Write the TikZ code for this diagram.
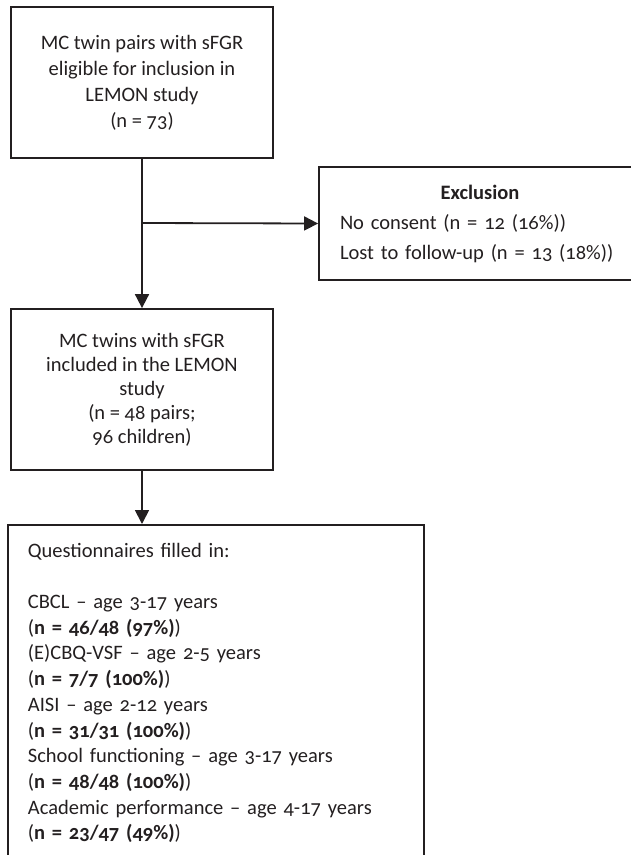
\documentclass[tikz,border=0pt]{standalone}
\usepackage{fontspec}
\setmainfont{Carlito}[Numbers=OldStyle]
\usetikzlibrary{arrows.meta}
\definecolor{ink}{HTML}{231F20}
\tikzset{
  box/.style={draw=ink, line width=1.8pt, rectangle, inner sep=0pt, text=ink, font=\fontsize{20.5}{26}\selectfont},
  arr/.style={draw=ink, line width=1.8pt, -{Triangle[length=14pt,width=14pt]}},
}
\begin{document}
\begin{tikzpicture}[x=1pt,y=1pt]
    \useasboundingbox (0,0) rectangle (630,-855);

    % boxes
    \node[box, minimum width=262pt, minimum height=151pt, align=center] (pairs) at (142,-82.5)
      {MC twin pairs with sFGR\\eligible for inclusion in\\LEMON study\\(n = 73)};
    \node[box, minimum width=262pt, minimum height=161pt, align=center, font=\fontsize{20.5}{24}\selectfont] (included) at (142,-389.5)
      {MC twins with sFGR\\included in the LEMON\\study\\(n = 48 pairs;\\96 children)};
    \node[box, minimum width=322pt, minimum height=113pt, text width=280pt, align=left, font=\fontsize{20.5}{30}\selectfont] (excl) at (480,-223.5)
      {\makebox[280pt]{\textbf{Exclusion}}\\No consent (n = 12 (16\%))\\Lost to follow-up (n = 13 (18\%))};
    \node[box, anchor=north west, text width=376pt, inner xsep=20pt, inner ysep=18pt, align=left, font=\fontsize{20.5}{25.7}\selectfont] (quest) at (7,-524)
      {Questionnaires filled in:\\[25.7pt]
       CBCL – age 3-17 years\\
       (\textbf{n = 46/48 (97\%)})\\
       (E)CBQ-VSF – age 2-5 years\\
       (\textbf{n = 7/7 (100\%)})\\
       AISI – age 2-12 years\\
       (\textbf{n = 31/31 (100\%)})\\
       School functioning – age 3-17 years\\
       (\textbf{n = 48/48 (100\%)})\\
       Academic performance – age 4-17 years\\
       (\textbf{n = 23/47 (49\%)})};

    % lines
    \coordinate (split) at (142,-223);
    \draw[arr] (pairs.south) -- (included.north);
    \draw[arr] (split) -- (excl.west);
    \draw[arr] (included.south) -- (included.south |- quest.north);
\end{tikzpicture}
\end{document}
